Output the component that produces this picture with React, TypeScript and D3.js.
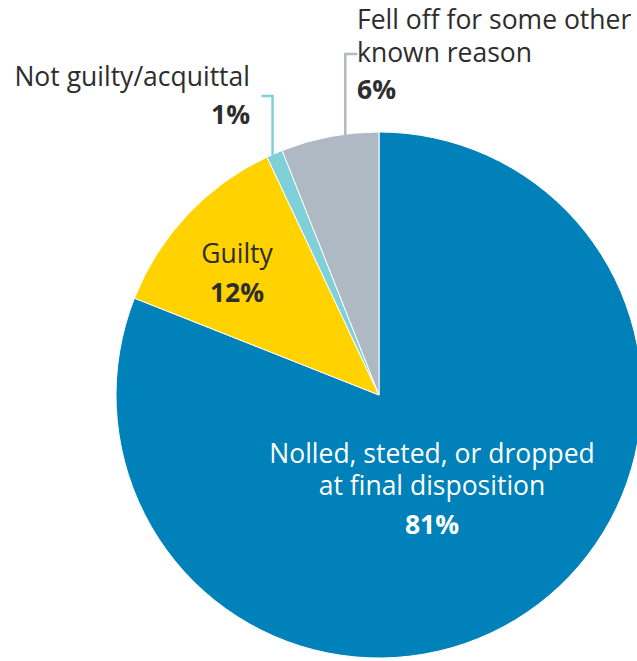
import React from "react";
import * as d3 from "d3";

const categories = [
  "Nolled, steted, or dropped at final disposition",
  "Guilty",
  "Not guilty/acquittal",
  "Fell off for some other known reason",
];
const values = [81, 12, 1, 6];
const colors = ["#0081B9", "#FFD200", "#80D0D9", "#AFB9C3"];

const W = 637;
const H = 661;
const cx = 379;
const cy = 395;
const R = 263;
const FONT = "'Open Sans', 'Noto Sans', sans-serif";
const TXT = "#2d2d2d";
const FS = 26.5;

export default function App() {
  const data = categories.map((c, i) => ({ c, v: values[i], color: colors[i] }));
  const pie = d3.pie<any>().value((d) => d.v).sort(null);
  const arcs = pie(data);
  const arc = d3.arc<any>().innerRadius(0).outerRadius(R);
  const polar = (a: number, r: number) => [cx + r * Math.sin(a), cy - r * Math.cos(a)];

  const mid = (i: number) => (arcs[i].startAngle + arcs[i].endAngle) / 2;
  const [ngx, ngy] = polar(mid(2), R);
  const ngX = ngx - 2;
  const [fox, foy] = polar(mid(3) + 0.06, R);

  return (
    <svg
      width={W}
      height={H}
      style={{ position: "absolute", left: 0, top: 0, background: "#fff" }}
      fontFamily={FONT}
    >
      <g transform={`translate(${cx},${cy})`}>
        {arcs.map((a, i) => (
          <path key={i} d={arc(a) as string} fill={a.data.color} stroke="#fff" strokeWidth={1} />
        ))}
      </g>
      <polyline
        points={`${ngX},${ngy + 1} ${ngX},96 ${ngX - 11},96`}
        fill="none"
        stroke={colors[2]}
        strokeWidth={2.5}
      />
      <polyline
        points={`${fox},${foy + 1} ${fox},54 ${fox + 12},54`}
        fill="none"
        stroke={colors[3]}
        strokeWidth={2.5}
      />
      <g fill={TXT} fontSize={FS}>
        <text x={357} y={29}>Fell off for some other</text>
        <text x={357} y={62}>known reason</text>
        <text x={357} y={99} fontWeight="bold">{values[3]}%</text>
      </g>
      <g fill={TXT} fontSize={FS} textAnchor="end">
        <text x={250} y={86}>Not guilty/acquittal</text>
        <text x={250} y={124} fontWeight="bold">{values[2]}%</text>
      </g>
      <g fill={TXT} fontSize={FS} textAnchor="middle">
        <text x={237} y={263}>Guilty</text>
        <text x={237} y={302} fontWeight="bold">{values[1]}%</text>
      </g>
      <g fill="#fff" fontSize={FS} textAnchor="middle">
        <text x={432} y={463}>Nolled, steted, or dropped</text>
        <text x={432} y={495}>at final disposition</text>
        <text x={432} y={534} fontWeight="bold">{values[0]}%</text>
      </g>
    </svg>
  );
}
